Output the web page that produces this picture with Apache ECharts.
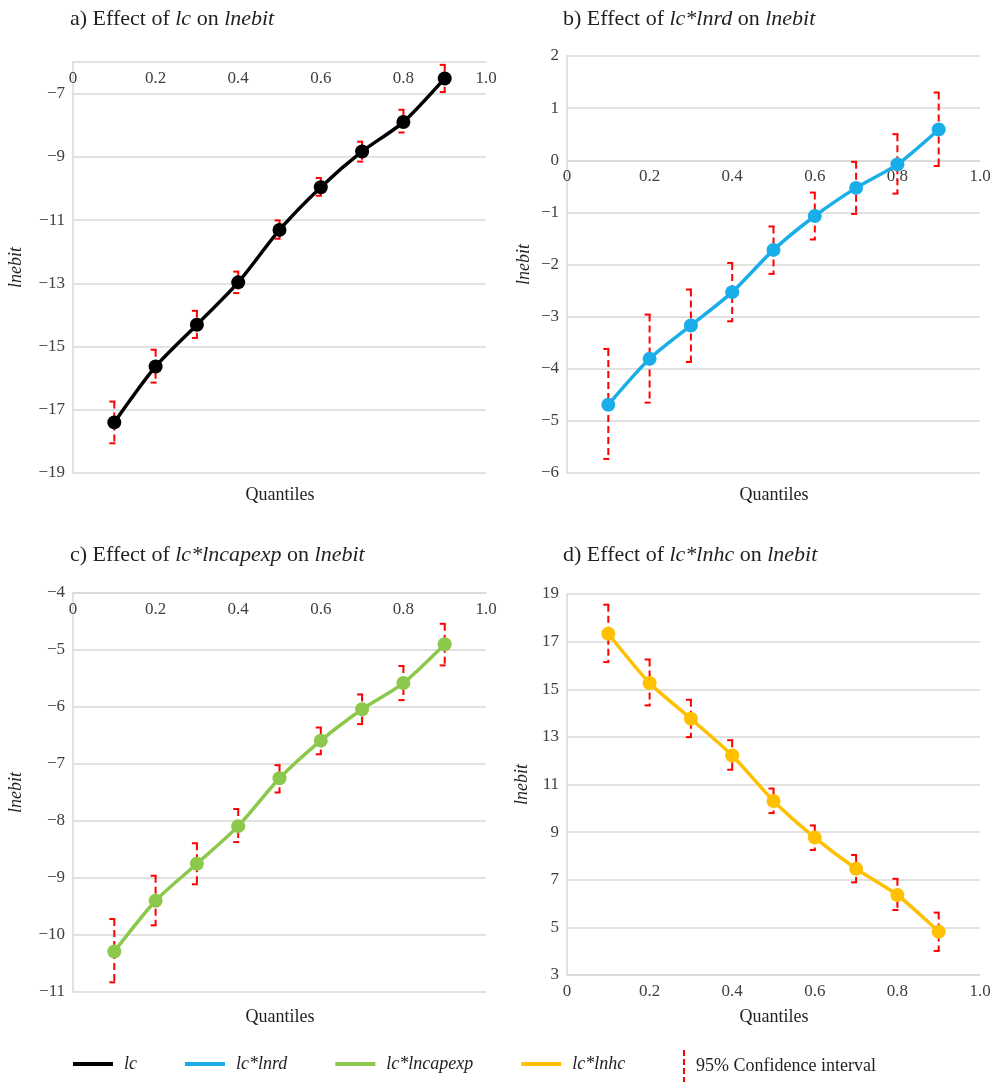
<!DOCTYPE html>
<html>
<head>
<meta charset="utf-8">
<script src="https://cdn.jsdelivr.net/npm/echarts@6/dist/echarts.min.js"></script>
<style>
  html, body { margin: 0; padding: 0; background: #fff; }
  #main { width: 997px; height: 1082px; }
</style>
</head>
<body>
<div id="main"></div>
<script>
// quantiles on the x axis
var quantiles = [0.1, 0.2, 0.3, 0.4, 0.5, 0.6, 0.7, 0.8, 0.9];

// a) lc
var lcMean = [-17.40, -15.63, -14.31, -12.97, -11.31, -9.96, -8.83, -7.90, -6.52];
var lcHigh = [-16.74, -15.10, -13.87, -12.63, -11.01, -9.67, -8.52, -7.51, -6.09];
var lcLow = [-18.06, -16.14, -14.73, -13.31, -11.59, -10.23, -9.15, -8.23, -6.95];
var lcTicks = [-19, -17, -15, -13, -11, -9, -7];

// b) lc*lnrd
var rdMean = [-4.69, -3.81, -3.17, -2.53, -1.72, -1.07, -0.53, -0.08, 0.59];
var rdHigh = [-3.62, -2.96, -2.48, -1.97, -1.27, -0.62, -0.03, 0.50, 1.30];
var rdLow = [-5.73, -4.65, -3.87, -3.09, -2.18, -1.52, -1.03, -0.64, -0.11];
var rdTicks = [-6, -5, -4, -3, -2, -1, 0, 1, 2];

// c) lc*lncapexp
var capMean = [-10.29, -9.40, -8.75, -8.09, -7.25, -6.59, -6.04, -5.58, -4.90];
var capHigh = [-9.72, -8.96, -8.39, -7.79, -7.02, -6.36, -5.78, -5.28, -4.54];
var capLow = [-10.83, -9.83, -9.11, -8.37, -7.50, -6.83, -6.30, -5.88, -5.27];
var capTicks = [-11, -10, -9, -8, -7, -6, -5, -4];

// d) lc*lnhc
var hcMean = [17.33, 15.26, 13.76, 12.22, 10.31, 8.77, 7.46, 6.36, 4.82];
var hcHigh = [18.55, 16.25, 14.56, 12.86, 10.83, 9.28, 8.04, 7.04, 5.62];
var hcLow = [16.14, 14.32, 12.99, 11.62, 9.80, 8.25, 6.89, 5.73, 4.01];
var hcTicks = [3, 5, 7, 9, 11, 13, 15, 17, 19];

var serif = '"Liberation Serif", "DejaVu Serif", serif';
var gridColor = '#d9d9d9';
var labelColor = '#404040';
var textColor = '#231f20';
var ciName = '95% Confidence interval';

var grids = [
    { left: 73, top: 62, width: 413, height: 411 },
    { left: 567, top: 56, width: 413, height: 417 },
    { left: 73, top: 593, width: 413, height: 399 },
    { left: 567, top: 594, width: 413, height: 381 }
];

var chart = echarts.init(document.getElementById('main'), null, { renderer: 'canvas' });

function minus(v) {
    return String(v).replace('-', '\u2212');
}

function pairs(ys) {
    return quantiles.map(function (q, i) { return [q, ys[i]]; });
}

function triples(lo, hi) {
    return quantiles.map(function (q, i) { return [q, lo[i], hi[i]]; });
}

// dashed red error bar, caps stick out to the left
function renderCI(params, api) {
    var x = api.value(0);
    var lo = api.coord([x, api.value(1)]);
    var hi = api.coord([x, api.value(2)]);
    var st = { stroke: '#ff0000', lineWidth: 2 };
    return {
        type: 'group',
        children: [
            { type: 'line', shape: { x1: hi[0], y1: hi[1], x2: lo[0], y2: lo[1] },
              style: { stroke: '#ff0000', lineWidth: 2, lineDash: [7, 4] } },
            { type: 'line', shape: { x1: hi[0] - 5, y1: hi[1], x2: hi[0] + 1, y2: hi[1] }, style: st },
            { type: 'line', shape: { x1: lo[0] - 5, y1: lo[1], x2: lo[0] + 1, y2: lo[1] }, style: st }
        ]
    };
}

// top: axis line at the top edge with labels hanging below it
// offset pushes it down into the plot (used to sit on y = 0)
function makeX(idx, top, offset) {
    return {
        gridIndex: idx, type: 'value', min: 0, max: 1, interval: 0.2,
        position: top ? 'top' : 'bottom',
        offset: offset || 0,
        axisLine: { show: true, onZero: false, lineStyle: { color: gridColor, width: 1.5 } },
        axisTick: { show: false },
        splitLine: { show: false },
        axisLabel: {
            inside: top, margin: 8, color: labelColor, fontFamily: serif, fontSize: 17,
            formatter: function (v) { return v === 0 ? '0' : v.toFixed(1); }
        }
    };
}

function makeY(idx, ticks, gap, max) {
    return {
        gridIndex: idx, type: 'value', min: ticks[0],
        max: max != null ? max : ticks[ticks.length - 1],
        name: 'lnebit', nameLocation: 'middle', nameGap: gap,
        nameTextStyle: { fontFamily: serif, fontStyle: 'italic', fontSize: 18, color: textColor },
        axisLine: { show: true, onZero: false, lineStyle: { color: gridColor, width: 1.5 } },
        axisTick: { show: false, customValues: ticks },
        splitLine: { show: true, lineStyle: { color: gridColor, width: 1.5 } },
        axisLabel: {
            customValues: ticks, margin: 8, color: labelColor, fontFamily: serif, fontSize: 17,
            formatter: minus
        }
    };
}

// distance from the top of panel b down to its zero line
var rdMax = rdTicks[rdTicks.length - 1];
var rdZeroOffset = -grids[1].height * rdMax / (rdMax - rdTicks[0]);

function lineSeries(name, idx, ys, color) {
    return {
        name: name, type: 'line', xAxisIndex: idx, yAxisIndex: idx,
        data: pairs(ys), smooth: 0.25, z: 3,
        symbol: 'circle', symbolSize: 14,
        lineStyle: { color: color, width: 3.5 },
        itemStyle: { color: color },
        emphasis: { disabled: true }
    };
}

function ciSeries(idx, lo, hi) {
    return {
        name: ciName, type: 'custom', xAxisIndex: idx, yAxisIndex: idx,
        data: triples(lo, hi), renderItem: renderCI, z: 2,
        itemStyle: { color: '#ff0000' }
    };
}

function titleRich(letter, mid) {
    return {
        left: letter === 'a' || letter === 'c' ? 65 : 558,
        top: letter === 'a' || letter === 'b' ? 3 : 539,
        text: '{n|' + letter + ') Effect of }{i|' + mid + '}{n| on }{i|lnebit}',
        textStyle: {
            fontWeight: 'normal',
            rich: {
                n: { fontFamily: serif, fontSize: 22, fontWeight: 'normal', color: textColor },
                i: { fontFamily: serif, fontSize: 22, fontWeight: 'normal', fontStyle: 'italic', color: textColor }
            }
        }
    };
}

function quantText(cx, cy) {
    return {
        type: 'text', x: cx, y: cy,
        style: { text: 'Quantiles', textAlign: 'center', textVerticalAlign: 'middle',
                 fontFamily: serif, fontSize: 18, fill: textColor }
    };
}

var option = {
    animation: false,
    backgroundColor: '#ffffff',
    title: [
        titleRich('a', 'lc'),
        titleRich('b', 'lc*lnrd'),
        titleRich('c', 'lc*lncapexp'),
        titleRich('d', 'lc*lnhc')
    ],
    grid: grids,
    xAxis: [makeX(0, true), makeX(1, true, rdZeroOffset), makeX(2, true), makeX(3, false)],
    yAxis: [
        makeY(0, lcTicks, 48, -6),   // top edge at -6 carries no label
        makeY(1, rdTicks, 34),
        makeY(2, capTicks, 48),
        makeY(3, hcTicks, 36)
    ],
    legend: [
        {
            left: 68, top: 1050, icon: 'rect', itemWidth: 40, itemHeight: 4, itemGap: 48,
            selectedMode: false,
            textStyle: { fontFamily: serif, fontStyle: 'italic', fontSize: 18, color: textColor, padding: [0, 0, 0, 6] },
            data: ['lc', 'lc*lnrd', 'lc*lncapexp', 'lc*lnhc']
        },
        {
            left: 678, top: 1045, itemWidth: 2, itemHeight: 32, selectedMode: false,
            icon: 'path://M0,0h2v6h-2z M0,9h2v6h-2z M0,18h2v6h-2z M0,27h2v5h-2z',
            textStyle: { fontFamily: serif, fontSize: 18, color: textColor, padding: [0, 0, 0, 6] },
            data: [ciName]
        }
    ],
    graphic: [
        quantText(280, 495),
        quantText(774, 495),
        quantText(280, 1017),
        quantText(774, 1017)
    ],
    series: [
        ciSeries(0, lcLow, lcHigh),
        lineSeries('lc', 0, lcMean, '#000000'),
        ciSeries(1, rdLow, rdHigh),
        lineSeries('lc*lnrd', 1, rdMean, '#1aaee8'),
        ciSeries(2, capLow, capHigh),
        lineSeries('lc*lncapexp', 2, capMean, '#8cc84b'),
        ciSeries(3, hcLow, hcHigh),
        lineSeries('lc*lnhc', 3, hcMean, '#ffc000')
    ]
};

chart.setOption(option);
</script>
</body>
</html>
